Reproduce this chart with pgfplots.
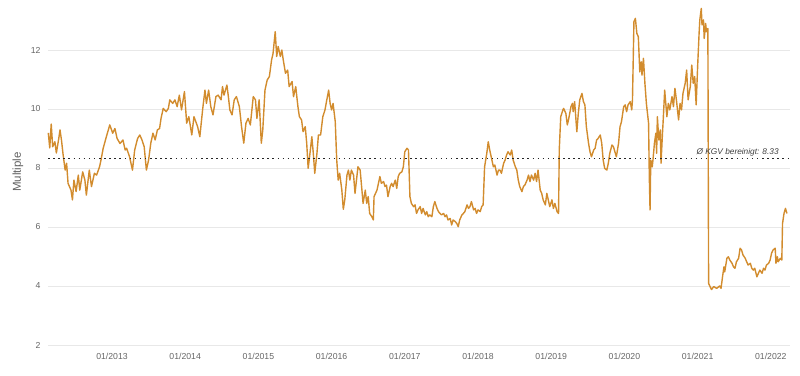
\documentclass[border=0pt]{standalone}
\usepackage{pgfplots}
\pgfplotsset{compat=1.18}
\usepackage{fontspec}
\setmainfont{Liberation Sans}
\definecolor{kgv}{HTML}{D28C2E}
\definecolor{gridc}{HTML}{E8E8E8}
\definecolor{tickc}{HTML}{666666}
\begin{document}
\begin{tikzpicture}
\begin{axis}[
  scale only axis, width=742pt, height=339.25pt,
  xmin=2012.126, xmax=2022.262, ymin=2, ymax=13.5,
  xtick={2013,2014,2015,2016,2017,2018,2019,2020,2021,2022},
  xticklabels={01/2013,01/2014,01/2015,01/2016,01/2017,01/2018,01/2019,01/2020,01/2021,01/2022},
  ytick={2,4,6,8,10,12},
  ymajorgrids, grid style={gridc, line width=0.9pt},
  axis line style={draw=none}, major tick length=0pt,
  /pgf/number format/assume math mode=true,
  ticklabel style={font=\fontsize{8.7}{10}\selectfont, text=tickc},
  yticklabel style={xshift=-4pt},
  xticklabel style={yshift=-5pt},
  ylabel={Multiple},
  ylabel style={at={(axis description cs:-0.0404,0.51)}, anchor=center, font=\fontsize{11.5}{13}\selectfont, text=black!62},
  clip=false,
]
\addplot[kgv, line width=1.4pt, line join=round] coordinates {
(2012.13,9.19) (2012.15,8.68) (2012.17,9.49) (2012.19,8.72) (2012.22,8.89) (2012.24,8.51) (2012.27,8.95) (2012.29,9.29) (2012.31,8.95) (2012.33,8.50)
(2012.36,7.93) (2012.38,8.16) (2012.40,7.48) (2012.44,7.25) (2012.46,6.92) (2012.48,7.59) (2012.51,7.20) (2012.54,7.76) (2012.56,7.25) (2012.60,7.87)
(2012.63,7.59) (2012.65,7.08) (2012.69,7.93) (2012.72,7.37) (2012.76,7.82) (2012.79,7.76) (2012.83,8.04) (2012.85,8.27) (2012.88,8.67) (2012.93,9.12)
(2012.97,9.46) (2013.01,9.18) (2013.04,9.34) (2013.07,9.00) (2013.11,8.83) (2013.15,8.95) (2013.18,8.61) (2013.20,8.67) (2013.24,8.38) (2013.28,7.93)
(2013.31,8.61) (2013.35,9.00) (2013.38,9.12) (2013.41,8.95) (2013.44,8.72) (2013.47,7.93) (2013.50,8.27) (2013.53,8.84) (2013.56,9.18) (2013.59,8.95)
(2013.62,9.29) (2013.65,9.34) (2013.67,9.68) (2013.70,10.02) (2013.74,9.91) (2013.77,10.02) (2013.79,10.31) (2013.83,10.19) (2013.86,10.31) (2013.89,10.08)
(2013.92,10.47) (2013.95,9.97) (2013.99,10.59) (2014.02,9.52) (2014.05,9.74) (2014.09,9.12) (2014.12,9.74) (2014.17,9.40) (2014.20,9.06) (2014.24,10.02)
(2014.27,10.64) (2014.29,10.19) (2014.32,10.64) (2014.35,10.08) (2014.38,9.80) (2014.42,10.42) (2014.45,10.47) (2014.49,10.31) (2014.51,10.76) (2014.53,10.47)
(2014.57,10.81) (2014.59,10.42) (2014.61,9.97) (2014.64,9.80) (2014.67,10.31) (2014.70,10.42) (2014.74,10.08) (2014.77,9.40) (2014.80,8.84) (2014.83,9.52)
(2014.86,9.68) (2014.89,9.46) (2014.93,10.42) (2014.96,10.31) (2014.98,9.68) (2015.01,10.31) (2015.04,8.84) (2015.06,9.29) (2015.09,10.64) (2015.12,10.98)
(2015.15,11.10) (2015.18,11.66) (2015.20,11.88) (2015.23,12.62) (2015.25,11.78) (2015.27,12.12) (2015.30,11.78) (2015.32,12.00) (2015.34,11.66) (2015.37,11.21)
(2015.40,11.32) (2015.42,10.76) (2015.46,10.93) (2015.48,10.42) (2015.51,10.76) (2015.54,10.08) (2015.56,9.74) (2015.59,9.63) (2015.61,9.23) (2015.64,9.40)
(2015.66,8.84) (2015.68,7.99) (2015.71,8.61) (2015.73,9.06) (2015.75,8.50) (2015.77,7.82) (2015.80,8.50) (2015.82,9.12) (2015.85,9.12) (2015.88,9.74)
(2015.91,9.97) (2015.93,10.25) (2015.96,10.64) (2015.98,10.19) (2016.00,9.97) (2016.02,10.19) (2016.05,9.57) (2016.07,8.27) (2016.09,7.59) (2016.11,7.82)
(2016.14,7.25) (2016.16,6.60) (2016.18,6.92) (2016.21,7.76) (2016.23,7.93) (2016.25,7.59) (2016.27,7.93) (2016.30,7.76) (2016.32,7.14) (2016.34,7.59)
(2016.36,8.04) (2016.39,7.93) (2016.41,7.37) (2016.43,6.80) (2016.46,7.25) (2016.48,6.80) (2016.50,7.03) (2016.52,6.46) (2016.55,6.35) (2016.57,6.24)
(2016.58,7.03) (2016.62,7.25) (2016.64,7.48) (2016.66,7.71) (2016.68,7.48) (2016.71,7.54) (2016.73,7.37) (2016.75,7.42) (2016.77,7.03) (2016.80,7.37)
(2016.82,7.48) (2016.84,7.37) (2016.87,7.59) (2016.89,7.31) (2016.91,7.71) (2016.93,7.82) (2016.96,7.87) (2016.98,8.04) (2017.00,8.55) (2017.03,8.67)
(2017.05,8.61) (2017.07,7.03) (2017.09,6.80) (2017.12,6.69) (2017.14,6.75) (2017.16,6.46) (2017.18,6.58) (2017.21,6.69) (2017.23,6.46) (2017.25,6.63)
(2017.28,6.41) (2017.30,6.52) (2017.32,6.35) (2017.34,6.41) (2017.37,6.35) (2017.39,6.69) (2017.41,6.86) (2017.44,6.63) (2017.46,6.52) (2017.48,6.46)
(2017.50,6.41) (2017.53,6.46) (2017.55,6.35) (2017.57,6.41) (2017.59,6.24) (2017.62,6.29) (2017.64,6.07) (2017.66,6.24) (2017.69,6.18) (2017.71,6.12)
(2017.73,6.01) (2017.75,6.24) (2017.78,6.41) (2017.80,6.46) (2017.82,6.52) (2017.85,6.75) (2017.87,6.63) (2017.89,6.69) (2017.91,6.86) (2017.94,6.58)
(2017.96,6.63) (2017.98,6.46) (2018.00,6.58) (2018.03,6.52) (2018.05,6.69) (2018.07,6.75) (2018.09,8.04) (2018.12,8.50) (2018.14,8.89) (2018.16,8.61)
(2018.19,8.27) (2018.21,8.04) (2018.23,8.10) (2018.26,7.76) (2018.28,7.93) (2018.30,7.93) (2018.32,7.82) (2018.35,8.16) (2018.37,8.27) (2018.39,8.44)
(2018.41,8.55) (2018.44,8.44) (2018.46,8.61) (2018.48,8.27) (2018.51,8.04) (2018.53,7.93) (2018.55,7.59) (2018.57,7.37) (2018.60,7.20) (2018.62,7.37)
(2018.64,7.42) (2018.67,7.59) (2018.69,7.76) (2018.71,7.54) (2018.73,7.76) (2018.76,7.59) (2018.78,7.82) (2018.80,7.54) (2018.82,7.93) (2018.85,7.25)
(2018.87,7.14) (2018.89,6.92) (2018.92,6.75) (2018.94,7.14) (2018.96,6.92) (2018.98,6.69) (2019.01,6.92) (2019.03,6.63) (2019.05,6.80) (2019.08,6.52)
(2019.10,6.46) (2019.11,8.61) (2019.13,9.74) (2019.16,9.97) (2019.17,10.02) (2019.20,9.85) (2019.22,9.46) (2019.24,9.68) (2019.27,10.08) (2019.29,10.19)
(2019.30,9.91) (2019.32,10.25) (2019.35,9.23) (2019.37,9.85) (2019.39,10.31) (2019.42,10.53) (2019.44,10.25) (2019.46,10.14) (2019.48,9.40) (2019.51,8.84)
(2019.53,8.55) (2019.55,8.38) (2019.58,8.61) (2019.60,8.67) (2019.62,8.95) (2019.64,9.00) (2019.67,9.12) (2019.69,8.84) (2019.71,8.27) (2019.73,7.99)
(2019.76,7.93) (2019.78,8.16) (2019.80,8.50) (2019.83,8.78) (2019.85,8.72) (2019.87,8.55) (2019.89,8.38) (2019.92,8.84) (2019.94,9.40) (2019.96,9.57)
(2019.99,10.08) (2020.01,10.14) (2020.03,9.91) (2020.05,10.14) (2020.08,10.25) (2020.10,9.97) (2020.11,10.31) (2020.13,12.96) (2020.15,13.07) (2020.17,12.56)
(2020.19,12.45) (2020.21,11.26) (2020.23,11.60) (2020.24,11.15) (2020.26,11.72) (2020.28,10.87) (2020.30,10.19) (2020.33,9.52) (2020.34,7.71) (2020.35,6.58)
(2020.36,8.27) (2020.38,8.04) (2020.39,8.27) (2020.41,8.84) (2020.43,9.18) (2020.44,8.50) (2020.45,9.74) (2020.47,8.95) (2020.49,9.29) (2020.50,8.16)
(2020.52,9.18) (2020.53,9.63) (2020.55,10.64) (2020.58,9.74) (2020.60,10.19) (2020.62,9.97) (2020.65,10.42) (2020.67,10.08) (2020.69,10.70) (2020.71,10.31)
(2020.74,9.63) (2020.76,10.19) (2020.78,9.97) (2020.80,10.53) (2020.83,10.87) (2020.85,11.32) (2020.87,10.31) (2020.90,10.76) (2020.92,11.49) (2020.94,10.87)
(2020.96,11.10) (2020.98,10.14) (2021.00,11.43) (2021.02,12.56) (2021.03,13.02) (2021.05,13.41) (2021.06,12.85) (2021.08,13.02) (2021.09,12.39) (2021.11,12.90)
(2021.12,12.62) (2021.14,12.73) (2021.15,4.09) (2021.17,3.98) (2021.19,3.88) (2021.22,3.98) (2021.26,3.92) (2021.30,4.00) (2021.32,3.92) (2021.34,4.31)
(2021.36,4.65) (2021.37,4.48) (2021.40,4.94) (2021.42,4.99) (2021.44,4.88) (2021.47,4.77) (2021.49,4.65) (2021.51,4.60) (2021.53,4.82) (2021.56,4.94)
(2021.58,5.28) (2021.60,5.22) (2021.62,5.05) (2021.65,4.94) (2021.67,4.82) (2021.69,4.71) (2021.72,4.77) (2021.74,4.60) (2021.76,4.54) (2021.78,4.60)
(2021.81,4.31) (2021.83,4.43) (2021.85,4.54) (2021.88,4.43) (2021.90,4.60) (2021.92,4.54) (2021.94,4.71) (2021.97,4.77) (2021.99,4.88) (2022.01,5.11)
(2022.03,5.22) (2022.06,5.28) (2022.07,4.77) (2022.09,4.99) (2022.10,4.82) (2022.13,4.94) (2022.15,4.88) (2022.16,6.12) (2022.18,6.46) (2022.20,6.63)
(2022.22,6.46)
};
\addplot[black!85, line width=1.5pt, dash pattern=on 1.5pt off 3.6pt] coordinates {(2012.126,8.33) (2022.262,8.33)};
\node[anchor=south east, inner sep=1.5pt, font=\itshape\fontsize{8.3}{10}\selectfont, text=black!75] at (axis cs:2022.13,8.33) {Ø KGV bereinigt: 8.33};
\end{axis}
\pgfresetboundingbox
\path (current axis.south west) ++(-48pt,-30pt) rectangle ++(800pt,375pt);
\end{tikzpicture}
\end{document}
